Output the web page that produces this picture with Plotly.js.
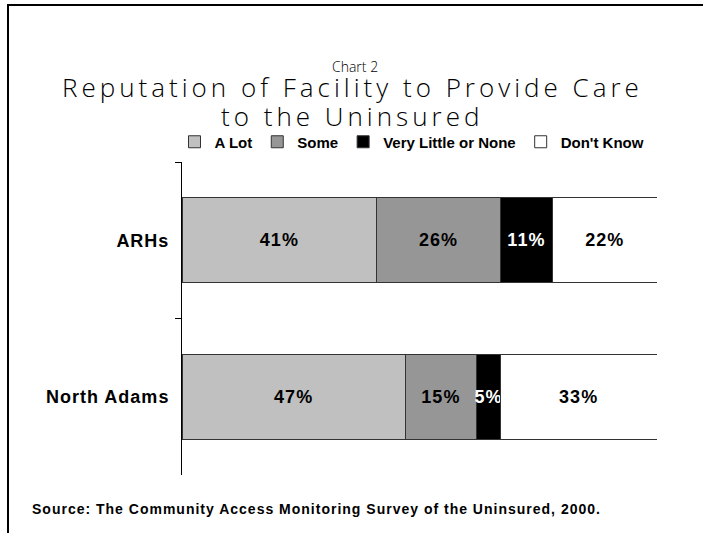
<!DOCTYPE html>
<html>
<head>
<meta charset="utf-8">
<script src="https://cdn.plot.ly/plotly-3.0.1.min.js"></script>
<style>
  html, body { margin: 0; padding: 0; background: #fff; }
  #wrap { position: relative; width: 703px; height: 533px; overflow: hidden; }
  #chart { width: 703px; height: 533px; }
  #frame { position: absolute; left: 7px; top: 4px; width: 720px; height: 540px;
           border-left: 2px solid #000; border-top: 2px solid #000; pointer-events: none; }
  .annotation[data-index="0"] text, .annotation[data-index="1"] text { letter-spacing: 4px; }
  .annotation[data-index="3"] text { letter-spacing: 1px; }
  .ytick text, .bartext { letter-spacing: 1px; }
</style>
</head>
<body>
<div id="wrap">
  <div id="chart"></div>
  <div id="frame"></div>
</div>
<script>
const categories = ["ARHs", "North Adams"];
const seriesNames = ["A Lot", "Some", "Very Little or None", "Don't Know"];
const aLot = [41, 47];
const some = [26, 15];
const veryLittle = [11, 5];
const dontKnow = [22, 33];
const seriesValues = [aLot, some, veryLittle, dontKnow];
const seriesColors = ["#c0c0c0", "#969696", "#000000", "#ffffff"];
const textColors = ["#000000", "#000000", "#ffffff", "#000000"];
const chartLabel = "Chart 2";
const titleLines = ["Reputation of Facility to Provide Care", "to the Uninsured"];
const sourceText = "Source: The Community Access Monitoring Survey of the Uninsured, 2000.";

const traces = seriesValues.map((vals, i) => ({
  type: "bar",
  orientation: "h",
  name: seriesNames[i],
  y: categories,
  x: vals,
  marker: { color: seriesColors[i], line: { color: "#333333", width: 1 } },
  texttemplate: "%{x}%",
  textposition: "inside",
  insidetextanchor: "middle",
  textangle: 0,
  constraintext: "none",
  cliponaxis: false,
  textfont: { family: "Liberation Sans, Arial, sans-serif", size: 18, color: textColors[i], weight: "bold" },
  hoverinfo: "skip"
}));

const W = 703, H = 533, L = 182, R = 46, T = 162, B = 58;
const pw = W - L - R, ph = H - T - B;
const px2x = p => (p - L) / pw;
const py2y = p => (H - B - p) / ph;

const titleFont = { family: "Open Sans, sans-serif", size: 26, color: "#000", weight: 300 };

const layout = {
  width: W,
  height: H,
  margin: { l: L, r: R, t: T, b: B },
  paper_bgcolor: "#ffffff",
  plot_bgcolor: "#ffffff",
  barmode: "stack",
  bargap: 0.46,
  showlegend: true,
  uniformtext: { mode: "show", minsize: 18 },
  legend: {
    orientation: "h",
    x: px2x(412), xanchor: "center",
    y: py2y(142), yanchor: "middle",
    traceorder: "normal",
    font: { family: "Liberation Sans, Arial, sans-serif", size: 15, color: "#000", weight: "bold" },
    itemwidth: 30,
    itemclick: false
  },
  xaxis: { visible: false, range: [0, 100], fixedrange: true },
  yaxis: {
    autorange: "reversed",
    showline: true, linecolor: "#000", linewidth: 1,
    ticks: "outside", ticklen: 6, tickcolor: "#000", tickwidth: 1,
    tickson: "boundaries",
    ticklabelstandoff: 8,
    showgrid: false, zeroline: false,
    tickfont: { family: "Liberation Sans, Arial, sans-serif", size: 18, color: "#000", weight: "bold" },
    fixedrange: true
  },
  annotations: [
    {
      text: titleLines[0], showarrow: false,
      xref: "paper", yref: "paper",
      x: px2x(352), y: py2y(87), xanchor: "center", yanchor: "middle",
      font: titleFont
    },
    {
      text: titleLines[1], showarrow: false,
      xref: "paper", yref: "paper",
      x: px2x(352), y: py2y(116), xanchor: "center", yanchor: "middle",
      font: titleFont
    },
    {
      text: chartLabel, showarrow: false,
      xref: "paper", yref: "paper",
      x: px2x(355), y: py2y(67), xanchor: "center", yanchor: "middle",
      font: { family: "Open Sans, sans-serif", size: 14, color: "#000", weight: 300 }
    },
    {
      text: sourceText, showarrow: false,
      xref: "paper", yref: "paper",
      x: px2x(316.5), y: py2y(509), xanchor: "center", yanchor: "middle",
      font: { family: "Liberation Sans, Arial, sans-serif", size: 14, color: "#000", weight: "bold" }
    }
  ]
};

Plotly.newPlot("chart", traces, layout, { displayModeBar: false, staticPlot: true });
</script>
</body>
</html>
